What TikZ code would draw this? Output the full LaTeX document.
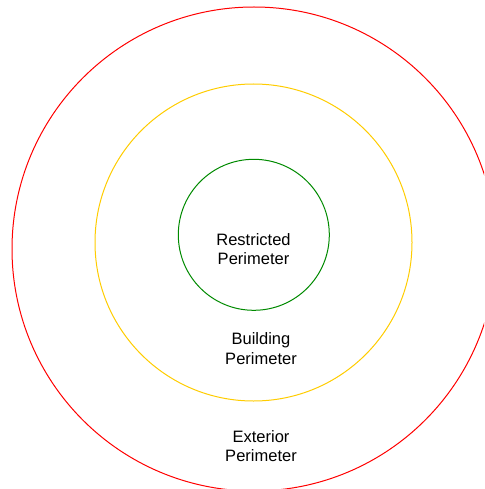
\documentclass[tikz,border=0pt]{standalone}
\usepackage{fontspec}
\setmainfont{Liberation Sans}
\definecolor{ringred}{HTML}{FF0000}
\definecolor{ringyellow}{HTML}{FFCC00}
\definecolor{ringgreen}{HTML}{008A00}
\begin{document}
\begin{tikzpicture}[x=1pt,y=-1pt,
  ring/.style={draw=#1,line width=1pt},
  lbl/.style={align=center,inner sep=0pt,text=black,font=\fontsize{16.5}{19.7}\selectfont}]
\useasboundingbox (0,0) rectangle (484,489);
\begin{scope}
\clip (0,0) rectangle (484,489);
\draw[ring=ringred] (254,249) circle[radius=242];
\end{scope}
\draw[ring=ringyellow] (253.5,242.5) circle[radius=158.5];
\draw[ring=ringgreen] (253.8,234.8) circle[radius=75.5];
\node[lbl] (restricted) at (253.5,249) {Restricted\\Perimeter};
\node[lbl] (building) at (261,348.5) {Building\\Perimeter};
\node[lbl] (exterior) at (261,446) {Exterior\\Perimeter};
\end{tikzpicture}
\end{document}
